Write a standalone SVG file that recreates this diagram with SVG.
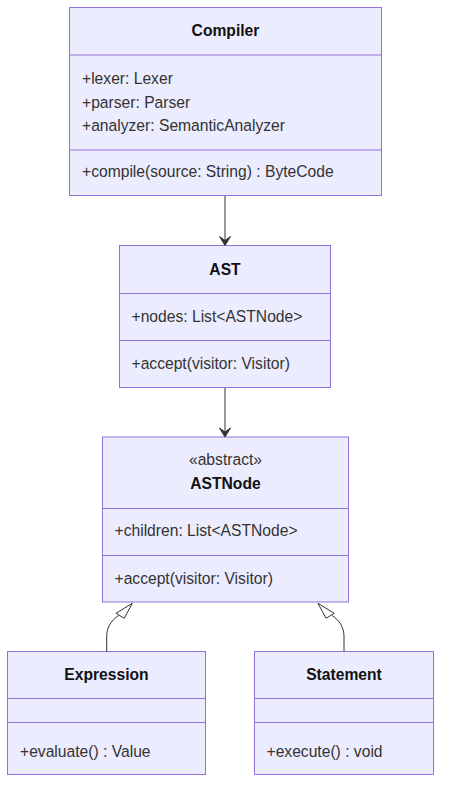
<svg xmlns="http://www.w3.org/2000/svg" width="449" height="796" viewBox="0 0 449 796">
<style>
.box{fill:#ECECFF;stroke:#9370DB;stroke-width:1}
.div{stroke:#9370DB;stroke-width:1}
text{font-family:"Liberation Sans",Arial,sans-serif;font-size:15.65px;fill:#333}
.t{font-weight:bold;text-anchor:middle;fill:#111}
.s{text-anchor:middle}
.edge{fill:none;stroke:#333;stroke-width:1}
.head{fill:#333;stroke:#333;stroke-width:1}
.tri{fill:#fff;stroke:#333;stroke-width:1}
</style>
<rect width="449" height="796" fill="#fff"/>
<g id="Compiler">
<rect class="box" x="69.5" y="7.5" width="312" height="188"/>
<line class="div" x1="69.5" y1="55" x2="381.5" y2="55"/>
<line class="div" x1="69.5" y1="150" x2="381.5" y2="150"/>
<text class="t" x="225.5" y="36">Compiler</text>
<text x="82" y="84">+lexer: Lexer</text>
<text x="82" y="107.5">+parser: Parser</text>
<text x="82" y="131">+analyzer: SemanticAnalyzer</text>
<text x="82" y="177">+compile(source: String) : ByteCode</text>
</g>
<g id="AST">
<rect class="box" x="119.5" y="245.5" width="211" height="142"/>
<line class="div" x1="119.5" y1="293.5" x2="330.5" y2="293.5"/>
<line class="div" x1="119.5" y1="340.5" x2="330.5" y2="340.5"/>
<text class="t" x="225" y="275">AST</text>
<text x="131.5" y="321.5">+nodes: List&lt;ASTNode&gt;</text>
<text x="131.5" y="369">+accept(visitor: Visitor)</text>
</g>
<g id="ASTNode">
<rect class="box" x="102.5" y="437" width="246" height="165"/>
<line class="div" x1="102.5" y1="508.5" x2="348.5" y2="508.5"/>
<line class="div" x1="102.5" y1="555.5" x2="348.5" y2="555.5"/>
<text class="s" x="225.5" y="465">«abstract»</text>
<text class="t" x="225.5" y="489">ASTNode</text>
<text x="114.5" y="535.5">+children: List&lt;ASTNode&gt;</text>
<text x="114.5" y="584">+accept(visitor: Visitor)</text>
</g>
<g id="Expression">
<rect class="box" x="7.5" y="651.5" width="198" height="123"/>
<line class="div" x1="7.5" y1="698.5" x2="205.5" y2="698.5"/>
<line class="div" x1="7.5" y1="722.5" x2="205.5" y2="722.5"/>
<text class="t" x="106.5" y="680">Expression</text>
<text x="20" y="756.5">+evaluate() : Value</text>
</g>
<g id="Statement">
<rect class="box" x="254.5" y="651.5" width="179" height="123"/>
<line class="div" x1="254.5" y1="698.5" x2="433.5" y2="698.5"/>
<line class="div" x1="254.5" y1="722.5" x2="433.5" y2="722.5"/>
<text class="t" x="344" y="680">Statement</text>
<text x="266.5" y="756.5">+execute() : void</text>
</g>
<g id="connectors">
<path class="edge" d="M225,196 L225,241"/>
<path class="head" d="M225,245.5 L219.5,236.5 L225,240.5 L230.5,236.5 Z"/>
<path class="edge" d="M225,388 L225,433"/>
<path class="head" d="M225,437 L219.5,428 L225,432 L230.5,428 Z"/>
<path class="edge" d="M106.7,651.5 L106.7,637 C106.7,627 111,621 118.5,615.5"/>
<polygon class="tri" points="132.3,603.3 116,613.3 124.3,618.3"/>
<path class="edge" d="M344,651.5 L344,637 C344,627 339.7,621 332.2,615.5"/>
<polygon class="tri" points="318,603.3 334.3,613.3 326,618.3"/>
</g>
</svg>
